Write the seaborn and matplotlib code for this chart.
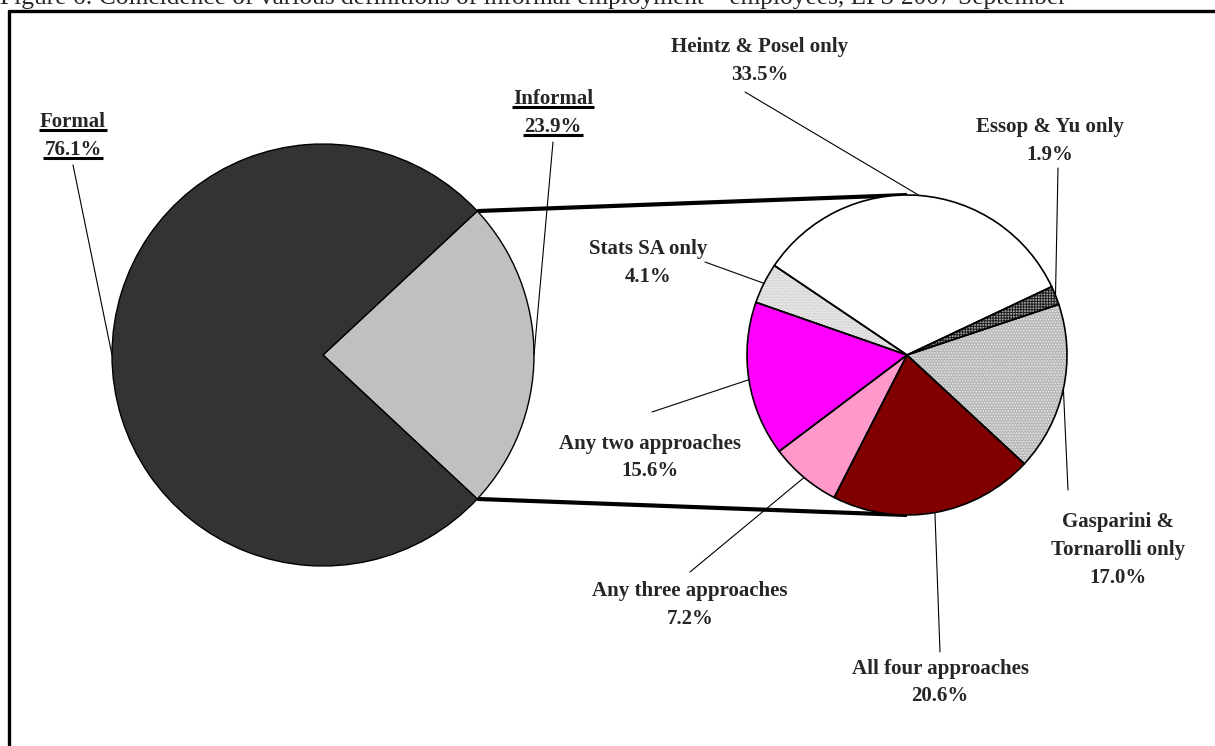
import matplotlib
matplotlib.use("Agg")
import matplotlib.pyplot as plt
import numpy as np
import seaborn as sns

# Canvas size in pixels (1 data unit = 1 pixel)
W, H = 1215, 746

title = ("Figure 6: Coincidence of various definitions of informal employment "
         "\u2013 employees, LFS 2007 September")

# Main split of employees
main_labels = ["Informal", "Formal"]
main_values = [23.9, 76.1]
main_colors = ["#c0c0c0", "#333333"]

# Break-down of the informal share by approach
sub_labels = ["Heintz & Posel only", "Essop & Yu only", "Gasparini &\nTornarolli only",
              "All four approaches", "Any three approaches", "Any two approaches",
              "Stats SA only"]
sub_values = [33.5, 1.9, 17.0, 20.6, 7.2, 15.6, 4.1]
sub_colors = ["#ffffff", "#a0a0a0", "#b8b8b8", "#800000", "#ff99cc", "#ff00ff", "#e4e4e4"]
sub_hatches = [None, "++++++", "......", None, None, None, "......"]
sub_hatch_colors = ["#ffffff", "#1e1e1e", "#ececec", "#800000", "#ff99cc", "#ff00ff", "#cccccc"]

sns.set_theme(style="white")
plt.rcParams["font.family"] = ["Liberation Serif", "DejaVu Serif"]
plt.rcParams["hatch.linewidth"] = 0.7

FS = 15

fig = plt.figure(figsize=(W / 100, H / 100), dpi=100)
ax = fig.add_axes([0, 0, 1, 1])


def py(y):
    return H - y


main_center = (323, py(355))
main_r = 211
sub_center = (907, py(355))
sub_r = 160

# Left pie: informal wedge centred on the right-hand side
half = main_values[0] / sum(main_values) * 360 / 2
main_wedges, _ = ax.pie(main_values, colors=main_colors, startangle=-half,
                        center=main_center, radius=main_r, counterclock=True,
                        wedgeprops=dict(edgecolor="black", linewidth=1.0))

# Right pie: fill/hatch layer then black outline layer
fill_wedges, _ = ax.pie(sub_values, colors=sub_colors, startangle=146,
                        counterclock=False, center=sub_center, radius=sub_r)
for w, h, hc in zip(fill_wedges, sub_hatches, sub_hatch_colors):
    w.set_edgecolor(hc)
    w.set_linewidth(0)
    if h:
        w.set_hatch(h)
sub_wedges, _ = ax.pie(sub_values, colors=["none"] * len(sub_values), startangle=146,
                       counterclock=False, center=sub_center, radius=sub_r,
                       wedgeprops=dict(edgecolor="black", linewidth=1.2, fill=False))

ax.set_xlim(0, W)
ax.set_ylim(0, H)
ax.set_aspect("auto")
ax.axis("off")


def edge_point(w, center, r):
    a = np.deg2rad((w.theta1 + w.theta2) / 2)
    return center[0] + r * np.cos(a), center[1] + r * np.sin(a)


# Connector lines from the informal wedge to the break-down pie
inf = main_wedges[0]
for th, yoff in ((inf.theta2, sub_r), (inf.theta1, -sub_r)):
    a = np.deg2rad(th)
    x0 = main_center[0] + main_r * np.cos(a)
    y0 = main_center[1] + main_r * np.sin(a)
    ax.plot([x0, sub_center[0]], [y0, sub_center[1] + yoff], color="black",
            lw=3.0, solid_capstyle="butt", zorder=0.5)

texts = []


def label(lines, x, baselines, underline=False):
    for s, yb in zip(lines, baselines):
        t = ax.text(x, py(yb), s, ha="center", va="baseline", fontsize=FS,
                    fontweight="bold")
        texts.append((t, underline, py(yb)))


def leader(w, center, r, x, y):
    ex, ey = edge_point(w, center, r)
    ax.plot([x, ex], [py(y), ey], color="black", lw=0.8, zorder=3)


pct = lambda v: f"{v:.1f}%"

# Left pie labels
label([main_labels[1], pct(main_values[1])], 73, [127, 155], underline=True)
leader(main_wedges[1], main_center, main_r, 73, 165)
label([main_labels[0], pct(main_values[0])], 553, [104, 132], underline=True)
leader(main_wedges[0], main_center, main_r, 553, 142)

# Right pie labels
sub_pos = [
    (760, [52, 80], (745, 92)),
    (1050, [132, 160], (1058, 168)),
    (1118, [527, 555, 583], (1068, 490)),
    (940, [674, 701], (940, 652)),
    (690, [596, 624], (690, 572)),
    (650, [449, 476], (652, 412)),
    (648, [254, 282], (705, 262)),
]
for name, v, w, (x, bls, (lx, ly)) in zip(sub_labels, sub_values, sub_wedges, sub_pos):
    label(name.split("\n") + [pct(v)], x, bls)
    leader(w, sub_center, sub_r, lx, ly)

# Title (runs off the top edge) and frame
fig.text(0, 1 - 4 / H, title, ha="left", va="baseline", fontsize=18.3,
         family=["Liberation Serif"])
ax.plot([9, W + 10], [py(11), py(11)], color="black", lw=2.4, clip_on=False)
ax.plot([9, 9], [py(11), -10], color="black", lw=2.4, clip_on=False)

# Underlines below the main-pie labels
renderer = fig.canvas.get_renderer()
for t, ul, yb in texts:
    if ul:
        bb = t.get_window_extent(renderer)
        ax.plot([bb.x0 - 1, bb.x1 + 1], [yb - 3, yb - 3], color="black", lw=2.2,
                solid_capstyle="butt")

fig.savefig("out.png", dpi=100)
